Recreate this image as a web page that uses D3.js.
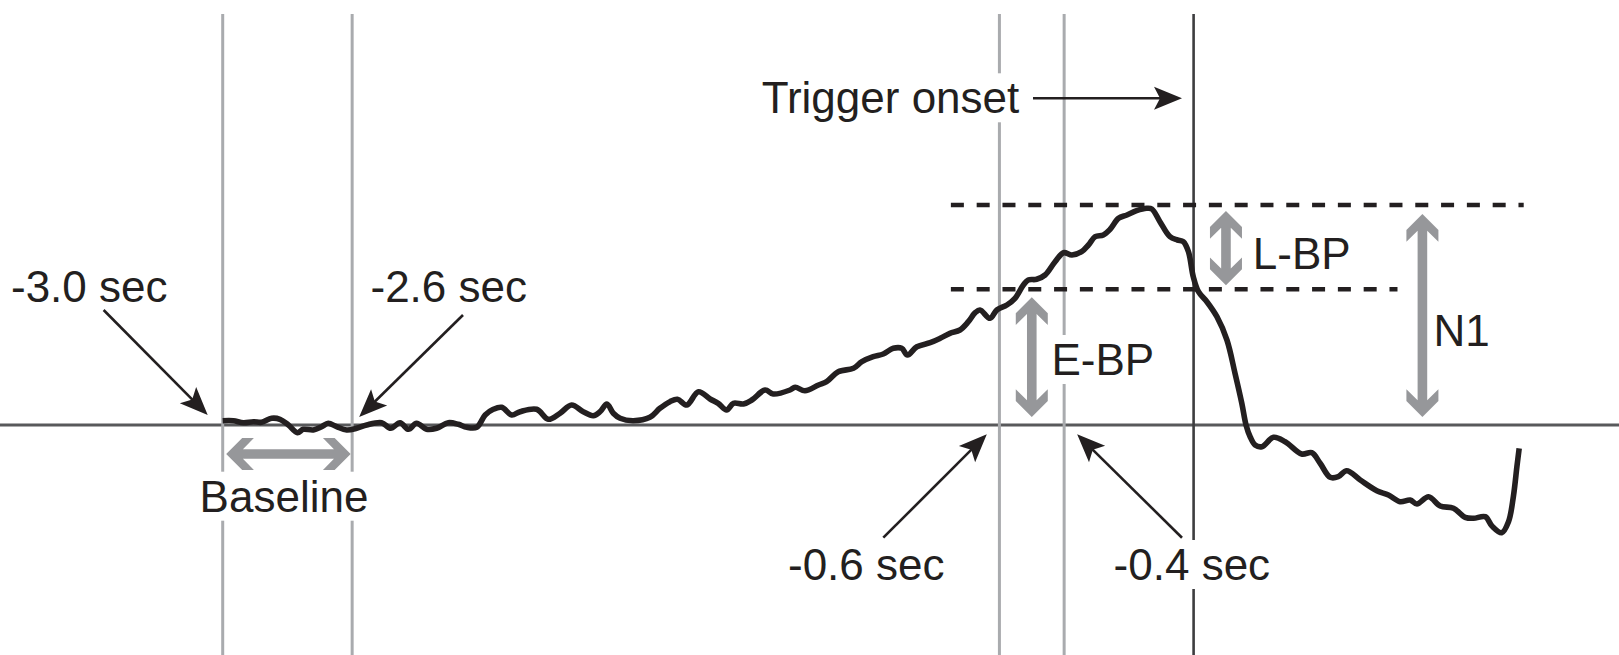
<!DOCTYPE html>
<html>
<head>
<meta charset="utf-8">
<script src="https://cdn.jsdelivr.net/npm/d3@7"></script>
<style>
  body { margin: 0; background: #fff; }
  svg { display: block; }
  text { font-family: "Liberation Sans", Arial, Helvetica, sans-serif; font-size: 44px; fill: #231f20; }
</style>
</head>
<body>
<div id="chart"></div>
<script>
// --- DATA ---
// time relative to trigger onset (sec)
const times = [-3.000,-2.967,-2.936,-2.905,-2.880,-2.849,-2.823,-2.797,-2.769,-2.751,
  -2.720,-2.694,-2.674,-2.648,-2.617,-2.586,-2.555,-2.509,-2.481,-2.452,
  -2.426,-2.401,-2.370,-2.339,-2.303,-2.272,-2.246,-2.215,-2.189,-2.164,
  -2.138,-2.107,-2.081,-2.030,-1.994,-1.958,-1.922,-1.886,-1.855,-1.834,
  -1.813,-1.793,-1.772,-1.731,-1.680,-1.649,-1.618,-1.595,-1.566,-1.530,
  -1.494,-1.469,-1.443,-1.422,-1.391,-1.365,-1.324,-1.299,-1.247,-1.231,
  -1.201,-1.159,-1.134,-1.098,-1.051,-1.025,-0.990,-0.959,-0.928,-0.902,
  -0.884,-0.855,-0.814,-0.783,-0.753,-0.722,-0.696,-0.675,-0.660,-0.629,
  -0.608,-0.577,-0.552,-0.526,-0.511,-0.485,-0.459,-0.428,-0.402,-0.376,
  -0.346,-0.325,-0.304,-0.279,-0.258,-0.232,-0.206,-0.176,-0.145,-0.129,
  -0.104,-0.073,-0.050,-0.032,-0.016,-0.001,0.015,0.041,0.072,0.103,
  0.128,0.149,0.162,0.175,
  0.190,0.211,0.247,0.283,0.334,0.365,0.391,0.422,0.447,0.473,
  0.515,0.566,0.602,0.638,0.669,0.690,0.726,0.762,0.803,0.839,
  0.865,0.901,0.922,0.952,0.973,0.988,0.999,1.006];

// signal amplitude (arbitrary units, baseline = 0)
const amplitudes = [0.43,0.43,0.23,0.33,0.27,0.67,0.57,0.00,-0.77,-0.43,
  -0.50,-0.17,0.17,-0.17,-0.50,-0.33,0.00,0.23,-0.33,0.23,
  -0.43,0.17,-0.43,-0.33,0.23,0.07,-0.23,-0.23,1.00,1.57,
  1.77,1.00,1.33,1.57,0.57,1.17,2.00,1.33,0.93,1.33,
  2.10,1.17,0.67,0.43,0.77,1.67,2.33,2.57,2.00,3.33,
  2.60,2.17,1.50,2.17,2.10,2.50,3.50,3.10,3.50,3.77,
  3.43,4.00,4.33,5.33,5.67,6.33,6.83,7.10,7.67,7.67,
  7.00,7.83,8.23,8.67,9.17,9.50,10.33,11.23,11.50,10.67,
  11.50,12.00,12.67,14.00,14.50,14.57,15.00,16.33,17.23,17.00,
  17.33,18.00,18.83,19.00,19.57,20.67,21.00,21.43,21.67,21.60,
  20.33,18.83,18.50,18.33,17.33,14.83,13.33,12.33,10.83,8.50,
  5.17,2.17,0.00,-1.20,
  -2.00,-2.17,-1.23,-1.67,-2.90,-2.77,-3.83,-5.23,-5.17,-4.57,
  -5.50,-6.57,-7.00,-7.67,-7.50,-7.90,-7.17,-8.10,-8.33,-9.23,
  -9.33,-9.17,-10.10,-10.77,-9.67,-7.17,-4.17,-2.33];

// marker times (gray lines) and trigger
const markerTimes = [-3.0, -2.6, -0.6, -0.4];
const triggerTime = 0;

// reference levels
const peakLevel = 22.0;   // N1 peak
const eBPLevel = 13.57;   // early BP level at trigger
const dashStart = -0.75;
const dashEnds = [1.02, 0.63];  // top, bottom

// --- SETUP ---
const width = 1619, height = 655;

const svg = d3.select("#chart").append("svg")
  .attr("width", width)
  .attr("height", height);

const x = d3.scaleLinear().domain([-3, 0]).range([222.7, 1193.6]);
const y = d3.scaleLinear().domain([0, 22]).range([425, 205]);

const INK = "#231f20";
const GRAY = "#96979a";

// --- GRID LINES ---
svg.append("line")
  .attr("x1", 0).attr("x2", width)
  .attr("y1", y(0)).attr("y2", y(0))
  .attr("stroke", "#58595b").attr("stroke-width", 3);

svg.selectAll(".marker")
  .data(markerTimes)
  .enter().append("line")
  .attr("class", "marker")
  .attr("x1", d => x(d)).attr("x2", d => x(d))
  .attr("y1", 14).attr("y2", height)
  .attr("stroke", "#a9abae").attr("stroke-width", 3);

svg.append("line")
  .attr("x1", x(triggerTime)).attr("x2", x(triggerTime))
  .attr("y1", 14).attr("y2", height)
  .attr("stroke", "#3d3d3f").attr("stroke-width", 2.6);

// dashed levels
svg.selectAll(".level")
  .data([peakLevel, eBPLevel])
  .enter().append("line")
  .attr("class", "level")
  .attr("x1", x(dashStart))
  .attr("x2", (d, i) => x(dashEnds[i]))
  .attr("y1", d => y(d)).attr("y2", d => y(d))
  .attr("stroke", INK).attr("stroke-width", 4.5)
  .attr("stroke-dasharray", "13,12.8");

// --- LABELS (white box behind each knocks out the lines) ---
const labels = [
  {text: "-3.0 sec", x: 11, y: 302, anchor: "start"},
  {text: "-2.6 sec", x: 370.5, y: 302, anchor: "start"},
  {text: "Baseline", x: 284, y: 511.7, anchor: "middle"},
  {text: "Trigger onset", x: 761.7, y: 113.3, anchor: "start"},
  {text: "-0.6 sec", x: 788, y: 580, anchor: "start"},
  {text: "-0.4 sec", x: 1113.6, y: 580, anchor: "start"},
  {text: "E-BP", x: 1051.5, y: 375, anchor: "start"},
  {text: "L-BP", x: 1252.8, y: 269, anchor: "start"},
  {text: "N1", x: 1433.4, y: 345.7, anchor: "start"}
];

const lab = svg.selectAll(".label")
  .data(labels)
  .enter().append("g")
  .attr("class", "label");

lab.append("rect").attr("fill", "#fff");
lab.append("text")
  .attr("x", d => d.x).attr("y", d => d.y)
  .attr("text-anchor", d => d.anchor)
  .text(d => d.text);

lab.each(function() {
  const g = d3.select(this);
  const bb = g.select("text").node().getBBox();
  g.select("rect")
    .attr("x", bb.x).attr("y", bb.y)
    .attr("width", bb.width).attr("height", bb.height);
});

// --- ARROWS ---
function blackArrow(x1, y1, x2, y2) {
  const ang = Math.atan2(y2 - y1, x2 - x1) * 180 / Math.PI;
  const len = Math.hypot(x2 - x1, y2 - y1);
  const a = svg.append("g").attr("transform", `translate(${x1},${y1}) rotate(${ang})`);
  a.append("line")
    .attr("x1", 0).attr("y1", 0).attr("x2", len - 20).attr("y2", 0)
    .attr("stroke", INK).attr("stroke-width", 2.6);
  a.append("path")
    .attr("d", `M${len},0 L${len - 28},-11.5 L${len - 22},0 L${len - 28},11.5 Z`)
    .attr("fill", INK);
}

// gray double-headed arrow, tip to tip
function grayArrow(x1, y1, x2, y2) {
  const ang = Math.atan2(y2 - y1, x2 - x1) * 180 / Math.PI;
  const L = Math.hypot(x2 - x1, y2 - y1);
  const H = 16, W = 27.7, s = 4.8, i = 16.7;
  const pts = [[0, 0], [H, -H], [W, -H], [i, -s], [L - i, -s], [L - W, -H], [L - H, -H], [L, 0],
               [L - H, H], [L - W, H], [L - i, s], [i, s], [W, H], [H, H]];
  svg.append("path")
    .attr("transform", `translate(${x1},${y1}) rotate(${ang})`)
    .attr("d", "M" + pts.map(p => p.join(",")).join("L") + "Z")
    .attr("fill", GRAY);
}

const inset = 8;
// Baseline window
grayArrow(x(-3.0) + 3.5, y(-2.9), x(-2.6) - 1.5, y(-2.9));
// E-BP, L-BP, N1
grayArrow(x(-0.5), y(0) - inset, x(-0.5), y(eBPLevel) + inset);
grayArrow(x(0.1), y(eBPLevel) - 4, x(0.1), y(peakLevel) + 6);
grayArrow(x(0.707), y(0) - inset, x(0.707), y(peakLevel) + 9);

// pointer arrows from labels
blackArrow(103.6, 310, x(-3.0) - 15, y(0) - 10);
blackArrow(463, 315, x(-2.6) + 7, y(0) - 8);
blackArrow(883.3, 537.7, x(-0.6) - 12.6, y(0) + 9.3);
blackArrow(1182, 537.7, x(-0.4) + 13, y(0) + 9.3);
blackArrow(1033, 98.3, x(triggerTime) - 11.6, 98.3);

// --- SIGNAL ---
const line = d3.line()
  .x(d => x(d[0]))
  .y(d => y(d[1]))
  .curve(d3.curveCatmullRom.alpha(0.5));

svg.append("path")
  .datum(d3.zip(times, amplitudes))
  .attr("d", line)
  .attr("fill", "none")
  .attr("stroke", INK)
  .attr("stroke-width", 5.6)
  .attr("stroke-linejoin", "round");
</script>
</body>
</html>
